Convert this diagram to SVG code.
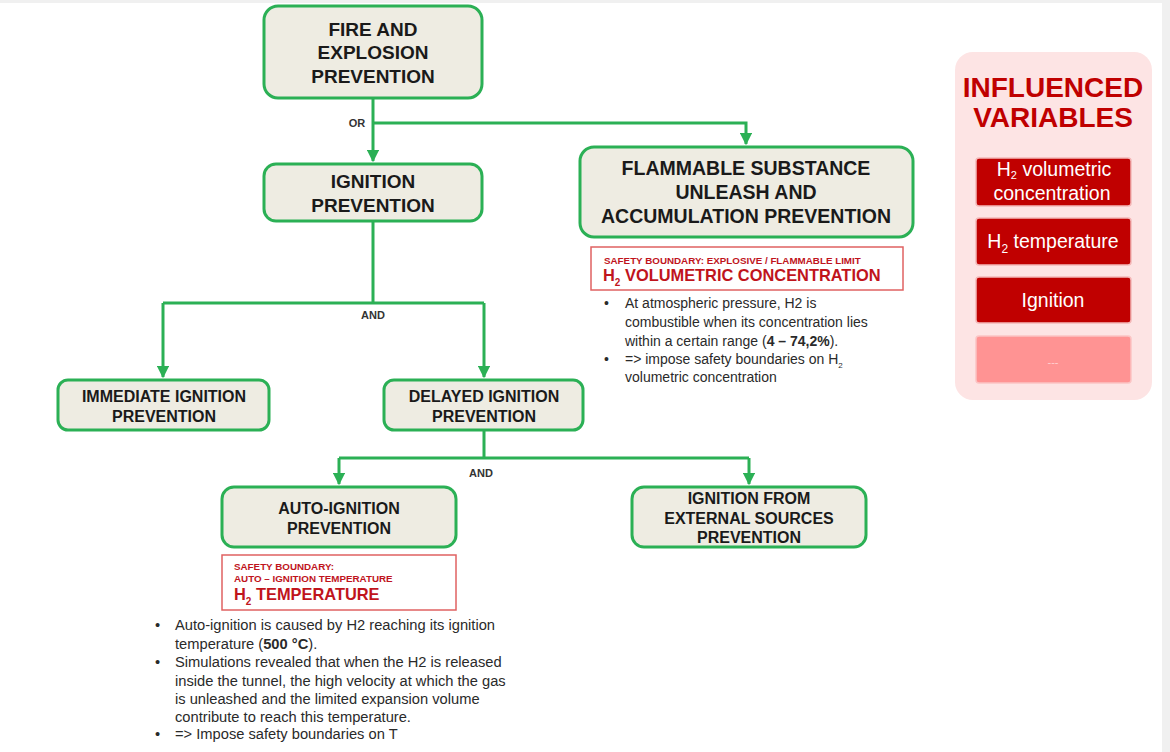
<svg xmlns="http://www.w3.org/2000/svg" width="1170" height="752" viewBox="0 0 1170 752">
<defs>
<marker id="arr" viewBox="0 0 10 10" refX="9" refY="5" markerWidth="4.2" markerHeight="4.2" orient="auto" markerUnits="strokeWidth">
<path d="M0,0 L10,5 L0,10 z" fill="#2bb055"/>
</marker>
<style>
.node{fill:#eeece2;stroke:#2bb055;stroke-width:3}
.nt{font-family:"Liberation Sans",Arial,sans-serif;font-weight:bold;fill:#1a1a1a;text-anchor:middle}
.con{fill:none;stroke:#2bb055;stroke-width:3}
.lbl{font-family:"Liberation Sans",Arial,sans-serif;font-weight:bold;font-size:11px;fill:#333;text-anchor:middle}
.rb{fill:#fff;stroke:#e06262;stroke-width:1.5}
.sm{font-family:"Liberation Sans",Arial,sans-serif;font-weight:bold;font-size:9.8px;fill:#c0141c}
.big{font-family:"Liberation Sans",Arial,sans-serif;font-weight:bold;font-size:16.4px;fill:#c0141c}
.bt{font-family:"Liberation Sans",Arial,sans-serif;font-size:14px;fill:#2a2a2a}
.bt2{font-family:"Liberation Sans",Arial,sans-serif;font-size:14.7px;fill:#2a2a2a}
.iv{fill:#c00000;stroke:#f4b8b8;stroke-width:1.5}
.ivt{font-family:"Liberation Sans",Arial,sans-serif;font-size:19.5px;fill:#fff;text-anchor:middle}
</style>
</defs>
<rect x="0" y="0" width="1170" height="752" fill="#f0f0f0"/>
<rect x="0" y="3" width="1162" height="749" fill="#ffffff"/>

<g id="connectors">
<path class="con" d="M373,98 V161" marker-end="url(#arr)"/>
<path class="con" d="M373,123 H746 V144" marker-end="url(#arr)"/>
<path class="con" d="M373,221 V303 M163,303 H484"/>
<path class="con" d="M163,303 V377" marker-end="url(#arr)"/>
<path class="con" d="M484,303 V377" marker-end="url(#arr)"/>
<path class="con" d="M484,430 V458 M339,458 H749"/>
<path class="con" d="M339,458 V484" marker-end="url(#arr)"/>
<path class="con" d="M749,458 V484" marker-end="url(#arr)"/>
<text class="lbl" x="357" y="127">OR</text>
<text class="lbl" x="373" y="319">AND</text>
<text class="lbl" x="481" y="477">AND</text>
</g>

<g id="fire">
<rect class="node" x="264" y="6" width="218" height="92" rx="14"/>
<text class="nt" font-size="19" x="373" y="36">FIRE AND</text>
<text class="nt" font-size="19" x="373" y="59">EXPLOSION</text>
<text class="nt" font-size="19" x="373" y="83">PREVENTION</text>
</g>

<g id="ignition">
<rect class="node" x="264" y="164" width="218" height="57" rx="12"/>
<text class="nt" font-size="19" x="373" y="188">IGNITION</text>
<text class="nt" font-size="19" x="373" y="212">PREVENTION</text>
</g>

<g id="flammable">
<rect class="node" x="580" y="147" width="333" height="90" rx="14"/>
<text class="nt" font-size="19.5" x="746" y="175">FLAMMABLE SUBSTANCE</text>
<text class="nt" font-size="19.5" x="746" y="199">UNLEASH AND</text>
<text class="nt" font-size="19.5" x="746" y="223">ACCUMULATION PREVENTION</text>
</g>

<g id="immediate">
<rect class="node" x="58" y="380" width="211" height="50" rx="10"/>
<text class="nt" font-size="16" x="164" y="402">IMMEDIATE IGNITION</text>
<text class="nt" font-size="16" x="164" y="422">PREVENTION</text>
</g>

<g id="delayed">
<rect class="node" x="384" y="380" width="199" height="50" rx="10"/>
<text class="nt" font-size="16" x="484" y="402">DELAYED IGNITION</text>
<text class="nt" font-size="16" x="484" y="422">PREVENTION</text>
</g>

<g id="auto">
<rect class="node" x="222" y="487" width="234" height="60" rx="12"/>
<text class="nt" font-size="16" x="339" y="514">AUTO-IGNITION</text>
<text class="nt" font-size="16" x="339" y="534">PREVENTION</text>
</g>

<g id="external">
<rect class="node" x="632" y="487" width="234" height="60" rx="12"/>
<text class="nt" font-size="16" x="749" y="504">IGNITION FROM</text>
<text class="nt" font-size="16" x="749" y="524">EXTERNAL SOURCES</text>
<text class="nt" font-size="16" x="749" y="543">PREVENTION</text>
</g>

<g id="boundary1">
<rect class="rb" x="591" y="247" width="312" height="43"/>
<text class="sm" x="604" y="264">SAFETY BOUNDARY: EXPLOSIVE / FLAMMABLE LIMIT</text>
<text class="big" x="603" y="281">H<tspan font-size="10" dy="5">2</tspan><tspan dy="-5"> VOLUMETRIC CONCENTRATION</tspan></text>
<text class="bt" x="604" y="308">•</text>
<text class="bt" x="625" y="308">At atmospheric pressure, H2 is</text>
<text class="bt" x="625" y="327">combustible when its concentration lies</text>
<text class="bt" x="625" y="346">within a certain range (<tspan font-weight="bold">4 – 74,2%</tspan>).</text>
<text class="bt" x="604" y="364">•</text>
<text class="bt" x="625" y="364">=&gt; impose safety boundaries on H<tspan font-size="8" dy="4">2</tspan></text>
<text class="bt" x="625" y="382">volumetric concentration</text>
</g>

<g id="boundary2">
<rect class="rb" x="222" y="555" width="234" height="55"/>
<text class="sm" x="234" y="570">SAFETY BOUNDARY:</text>
<text class="sm" x="234" y="582">AUTO – IGNITION TEMPERATURE</text>
<text class="big" x="234" y="600">H<tspan font-size="10" dy="5">2</tspan><tspan dy="-5"> TEMPERATURE</tspan></text>
<text class="bt2" x="155" y="630">•</text>
<text class="bt2" x="175" y="630">Auto-ignition is caused by H2 reaching its ignition</text>
<text class="bt2" x="175" y="649">temperature (<tspan font-weight="bold">500 °C</tspan>).</text>
<text class="bt2" x="155" y="667">•</text>
<text class="bt2" x="175" y="667">Simulations revealed that when the H2 is released</text>
<text class="bt2" x="175" y="686">inside the tunnel, the high velocity at which the gas</text>
<text class="bt2" x="175" y="704">is unleashed and the limited expansion volume</text>
<text class="bt2" x="175" y="722">contribute to reach this temperature.</text>
<text class="bt2" x="155" y="739">•</text>
<text class="bt2" x="175" y="739">=&gt; Impose safety boundaries on T</text>
</g>

<g id="influenced">
<rect x="955" y="52" width="197" height="348" rx="18" fill="#fde4e4"/>
<text x="1053" y="97" font-family="Liberation Sans,Arial,sans-serif" font-weight="bold" font-size="28" fill="#c00000" text-anchor="middle">INFLUENCED</text>
<text x="1053" y="127" font-family="Liberation Sans,Arial,sans-serif" font-weight="bold" font-size="28" fill="#c00000" text-anchor="middle">VARIABLES</text>
<rect class="iv" x="976" y="158" width="155" height="48" rx="3"/>
<text class="ivt" x="1054" y="176">H<tspan font-size="11" dy="3">2</tspan><tspan dy="-3"> volumetric</tspan></text>
<text class="ivt" x="1052" y="200">concentration</text>
<rect class="iv" x="976" y="218" width="155" height="47" rx="3"/>
<text class="ivt" x="1053" y="248">H<tspan font-size="12" dy="5">2</tspan><tspan dy="-5"> temperature</tspan></text>
<rect class="iv" x="976" y="277" width="155" height="46" rx="3"/>
<text class="ivt" x="1053" y="307">Ignition</text>
<rect x="976" y="336" width="155" height="47" rx="3" fill="#ff9393" stroke="#fbc4c4" stroke-width="1.5"/>
<text x="1053" y="366" font-family="Liberation Sans,Arial,sans-serif" font-size="11" fill="#ffd0d0" text-anchor="middle">---</text>
</g>
</svg>
